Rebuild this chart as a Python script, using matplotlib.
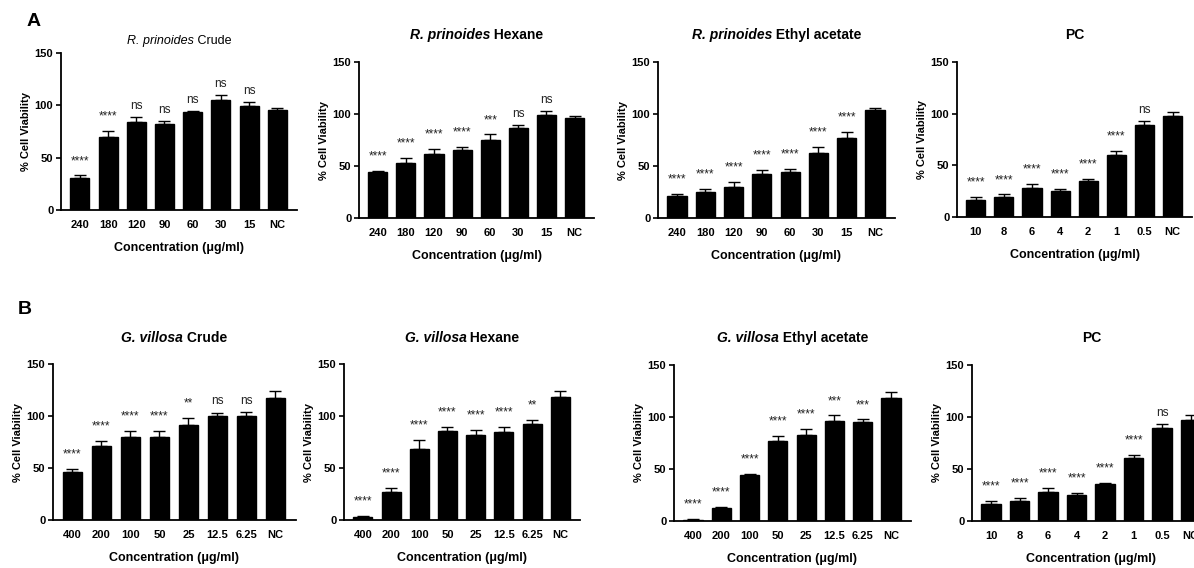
import numpy as np
import matplotlib
matplotlib.use('Agg')
from matplotlib import pyplot as plt

plt.rcParams['font.family'] = ['Liberation Sans', 'DejaVu Sans']

W, H = 1194, 568

# concentrations
conc_r = ['240', '180', '120', '90', '60', '30', '15', 'NC']
conc_g = ['400', '200', '100', '50', '25', '12.5', '6.25', 'NC']
conc_pc = ['10', '8', '6', '4', '2', '1', '0.5', 'NC']

# R. prinoides
r_crude = [30.5, 70.2, 84.3, 81.7, 93.5, 105.3, 99.6, 95.1]
r_crude_err = [2.5, 5.4, 4.1, 3.5, 1.3, 4.2, 3.4, 2.2]
r_crude_sig = ['****', '****', 'ns', 'ns', 'ns', 'ns', 'ns', '']

r_hex = [43.9, 53.2, 61.9, 65.1, 75.3, 86.9, 99.4, 96.2]
r_hex_err = [1.6, 4.8, 4.8, 2.9, 5.1, 2.2, 3.2, 1.6]
r_hex_sig = ['****', '****', '****', '****', '***', 'ns', 'ns', '']

r_ea = [20.8, 24.7, 30.1, 42.0, 44.6, 62.8, 77.2, 104.2]
r_ea_err = [2.0, 2.9, 4.2, 4.5, 2.8, 5.5, 5.8, 1.9]
r_ea_sig = ['****'] * 7 + ['']

# positive control
pc = [16.8, 19.4, 28.1, 24.8, 35.2, 60.3, 89.0, 97.4]
pc_err = [2.6, 2.5, 3.8, 2.3, 1.6, 3.6, 3.9, 4.2]
pc_sig = ['****'] * 6 + ['ns', '']

# G. villosa
g_crude = [46.5, 71.2, 79.5, 80.1, 91.3, 100.0, 100.3, 117.6]
g_crude_err = [2.2, 4.8, 6.1, 5.5, 7.1, 3.2, 3.2, 6.8]
g_crude_sig = ['****', '****', '****', '****', '**', 'ns', 'ns', '']

g_hex = [3.2, 27.2, 67.9, 85.9, 82.0, 84.9, 92.0, 118.0]
g_hex_err = [1.0, 3.9, 8.7, 3.5, 4.5, 4.8, 4.2, 6.4]
g_hex_sig = ['****'] * 6 + ['**', '']

g_ea = [1.3, 12.8, 44.3, 76.8, 82.6, 95.7, 95.1, 118.5]
g_ea_err = [0.3, 0.7, 1.3, 4.8, 6.1, 5.8, 2.6, 5.8]
g_ea_sig = ['****'] * 5 + ['***', '***', '']

# (title parts, labels, means, errs, sigs)
panels = [
    ([('R. prinoides', 'italic', 'normal'), (' Crude', 'normal', 'normal')], conc_r, r_crude, r_crude_err, r_crude_sig),
    ([('R. prinoides', 'italic', 'bold'), (' Hexane', 'normal', 'bold')], conc_r, r_hex, r_hex_err, r_hex_sig),
    ([('R. prinoides', 'italic', 'bold'), (' Ethyl acetate', 'normal', 'bold')], conc_r, r_ea, r_ea_err, r_ea_sig),
    ([('PC', 'normal', 'bold')], conc_pc, pc, pc_err, pc_sig),
    ([('G. villosa', 'italic', 'bold'), (' Crude', 'normal', 'bold')], conc_g, g_crude, g_crude_err, g_crude_sig),
    ([('G. villosa', 'italic', 'bold'), (' Hexane', 'normal', 'bold')], conc_g, g_hex, g_hex_err, g_hex_sig),
    ([('G. villosa', 'italic', 'bold'), (' Ethyl acetate', 'normal', 'bold')], conc_g, g_ea, g_ea_err, g_ea_sig),
    ([('PC', 'normal', 'bold')], conc_pc, pc, pc_err, pc_sig),
]

# layout in pixels: y-axis x, zero y, top y, bar pitch, title baseline y
layout = [
    (61, 210, 53, 28.2, 44),
    (359, 218, 62, 28.1, 39),
    (658, 218, 62, 28.3, 39),
    (957, 217, 62, 28.1, 39),
    (53, 520, 364, 29.0, 342),
    (344, 520, 364, 28.2, 342),
    (674, 521, 365, 28.3, 342),
    (972, 521, 365, 28.5, 342),
]

XMIN, XMAX = -0.67, 7.7

fig = plt.figure(figsize=(W / 100, H / 100), dpi=100)
renderer = fig.canvas.get_renderer()

for (parts, labels, means, errs, sigs), (lx, zy, ty, pitch, tb) in zip(panels, layout):
    wpx = pitch * (XMAX - XMIN)
    ax = fig.add_axes([lx / W, 1 - zy / H, wpx / W, (zy - ty) / H])
    x = np.arange(len(labels))
    ax.bar(x, means, width=0.68, color='black', edgecolor='black', zorder=2)
    ax.errorbar(x, means, yerr=[np.zeros(len(errs)), errs], fmt='none', ecolor='black',
                elinewidth=1, capsize=4, capthick=1, zorder=3)
    for xi, m, e, s in zip(x, means, errs, sigs):
        if s == 'ns':
            ax.text(xi, m + e + 5, s, ha='center', va='bottom', fontsize=8.5, color='#222222')
        elif s:
            ax.text(xi, m + e + 11, s, ha='center', va='baseline', fontsize=8.5, color='#222222')
    ax.set_xlim(XMIN, XMAX)
    ax.set_ylim(0, 150)
    ax.set_yticks([0, 50, 100, 150])
    ax.set_xticks(x)
    ax.set_xticklabels(labels)
    for sp in ['top', 'right']:
        ax.spines[sp].set_visible(False)
    for sp in ['left', 'bottom']:
        ax.spines[sp].set_linewidth(1.3)
    ax.tick_params(axis='y', length=3.5, width=1.2, labelsize=8, pad=2)
    ax.tick_params(axis='x', length=0, labelsize=8, pad=7)
    for lab in ax.get_xticklabels() + ax.get_yticklabels():
        lab.set_fontweight('bold')
    ax.set_ylabel('% Cell Viability', fontsize=8, fontweight='bold', labelpad=3)
    ax.set_xlabel('Concentration (μg/ml)', fontsize=9, fontweight='bold', labelpad=9)

    # title made of italic and upright parts, centred over the axes
    cx = lx + wpx / 2
    if lx + wpx > W:
        cx = lx + wpx / 2
    texts = []
    for s, style, weight in parts:
        t = fig.text(0, 1 - tb / H, s, fontstyle=style, fontweight=weight,
                     fontsize=10 if weight == 'bold' else 9, ha='left', va='baseline')
        texts.append(t)
    widths = [t.get_window_extent(renderer).width for t in texts]
    pos = cx - sum(widths) / 2
    for t, w in zip(texts, widths):
        t.set_x(pos / W)
        pos += w

fig.text(27 / W, 1 - 22 / H, 'A', fontsize=14, fontweight='bold', ha='left', va='center')
fig.text(18 / W, 1 - 309 / H, 'B', fontsize=14, fontweight='bold', ha='left', va='center')

fig.savefig('out.png', dpi=100)
